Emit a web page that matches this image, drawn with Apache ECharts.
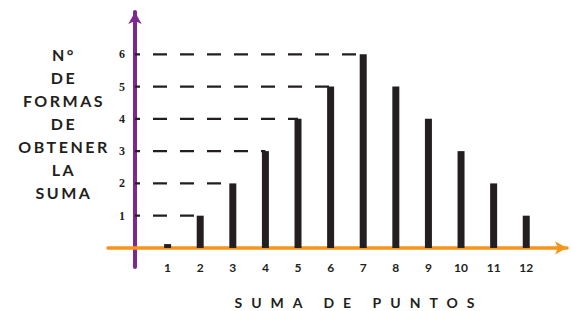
<!DOCTYPE html>
<html>
<head>
<meta charset="utf-8">
<script src="https://cdn.jsdelivr.net/npm/echarts@6/dist/echarts.min.js"></script>
<style>
  html, body { margin: 0; padding: 0; background: #fff; }
  #chart { width: 571px; height: 311px; }
</style>
</head>
<body>
<div id="chart"></div>
<script>
// sums of two dice and number of ways to get them
const sums = [1, 2, 3, 4, 5, 6, 7, 8, 9, 10, 11, 12];
const counts = [0.12, 1, 2, 3, 4, 5, 6, 5, 4, 3, 2, 1];
const yTicks = [1, 2, 3, 4, 5, 6];
const yName = ['N°', 'DE', 'FORMAS', 'DE', 'OBTENER', 'LA', 'SUMA'];
const xName = 'SUMA DE PUNTOS';

const INK = '#231f20';

// dashed guide from the y axis to the first bar reaching each level
const guides = yTicks.map(function (v) {
  const i = counts.findIndex(function (c) { return c >= v; });
  return {
    type: 'line',
    data: [[0, v], [sums[i], v]],
    symbol: 'none',
    silent: true,
    z: 1,
    lineStyle: { color: INK, width: 2.3, type: [14, 13], dashOffset: 9 }
  };
});

// spread the letters like the printed titles
function spreadLetters() {
  document.querySelectorAll('#chart svg text, #chart svg tspan').forEach(function (t) {
    var s = t.textContent.trim();
    if (s === xName) t.setAttribute('letter-spacing', '9');
    else if (yName.indexOf(s) >= 0) t.setAttribute('letter-spacing', '2.5');
  });
}

var chart = echarts.init(document.getElementById('chart'), null, { renderer: 'svg' });
chart.on('finished', spreadLetters);
chart.setOption({
  animation: false,
  title: [
    {
      text: yName.join('\n'),
      left: 59, top: 38, textAlign: 'center',
      textStyle: { fontFamily: 'Lato', fontWeight: 'bold', fontSize: 16, lineHeight: 23, color: INK, align: 'center' }
    },
    {
      text: xName,
      left: 354, top: 289, textAlign: 'center',
      textStyle: { fontFamily: 'Lato', fontWeight: 'bold', fontSize: 14, lineHeight: 16, color: INK }
    }
  ],
  grid: { left: 108, right: 4, top: 12, bottom: 44 },
  xAxis: {
    type: 'value',
    min: -0.828, max: 13.25,
    axisLine: { onZero: true, lineStyle: { color: '#f7941d', width: 3.5 }, symbol: ['none', 'arrow'], symbolSize: [10, 12] },
    axisTick: { show: false },
    splitLine: { show: false },
    axisLabel: {
      customValues: sums, margin: -6,
      fontFamily: 'Lato', fontWeight: 'bold', fontSize: 12, color: INK
    }
  },
  yAxis: {
    type: 'value',
    min: -0.59, max: 7.31,
    axisLine: { onZero: true, lineStyle: { color: '#7b2a8e', width: 4 }, symbol: ['none', 'arrow'], symbolSize: [10, 12] },
    axisTick: { show: false },
    splitLine: { show: false },
    axisLabel: {
      customValues: yTicks, margin: -17,
      fontFamily: 'Liberation Serif', fontWeight: 'bold', fontSize: 12, color: INK
    }
  },
  series: guides.concat([{
    type: 'bar',
    data: sums.map(function (s, i) { return [s, counts[i]]; }),
    barWidth: 7,
    z: 3,
    itemStyle: { color: INK }
  }])
});
spreadLetters();
setTimeout(spreadLetters, 50);
</script>
</body>
</html>
